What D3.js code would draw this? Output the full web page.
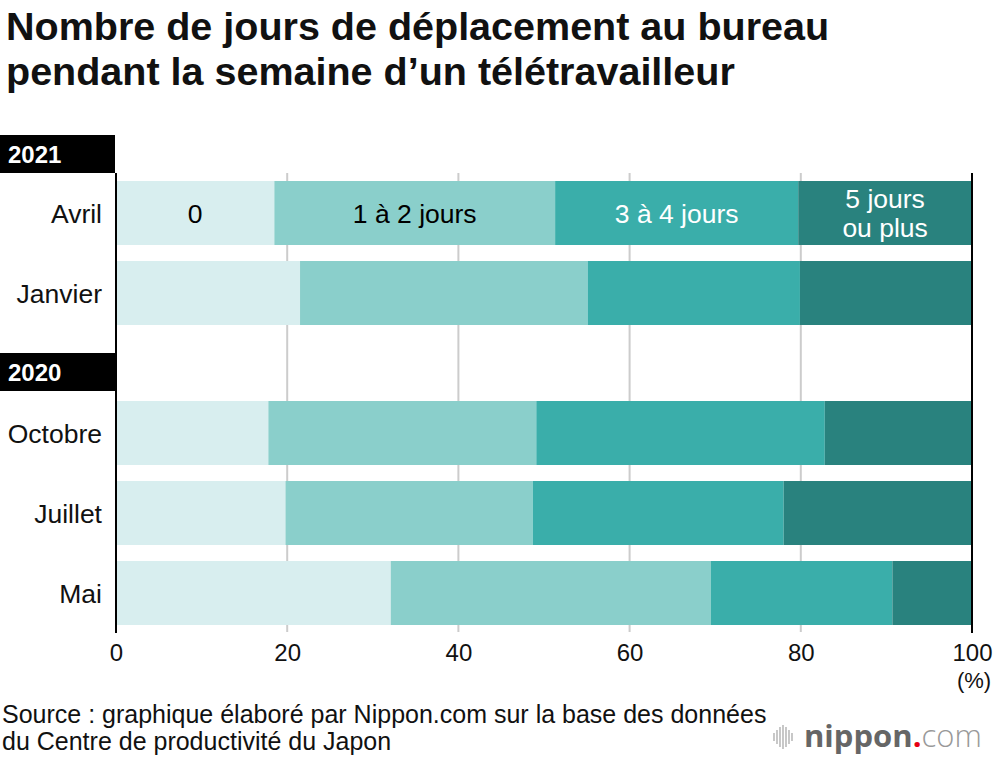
<!DOCTYPE html>
<html>
<head>
<meta charset="utf-8">
<script src="https://cdn.jsdelivr.net/npm/d3@7"></script>
<style>
  body { margin: 0; background: #fff; }
  svg { font-family: "Liberation Sans", Arial, sans-serif; }
</style>
</head>
<body>
<div id="chart"></div>
<script>
// categories (top to bottom), grouped by year
var years = ["2021", "2020"];
var months = ["Avril", "Janvier", "Octobre", "Juillet", "Mai"];
var monthYear = ["2021", "2021", "2020", "2020", "2020"];
var series = ["0", "1 à 2 jours", "3 à 4 jours", "5 jours ou plus"];
// share of teleworkers (%) by number of office days in the week
var zeroDays = [18.5, 21.5, 17.8, 19.8, 32.1];
var oneTwoDays = [32.8, 33.6, 31.3, 28.9, 37.4];
var threeFourDays = [28.4, 24.8, 33.7, 29.3, 21.2];
var fivePlusDays = [20.3, 20.1, 17.2, 22.0, 9.3];
var xTicks = [0, 20, 40, 60, 80, 100];

var colors = ["#d8eeef", "#8acfcb", "#3aaeaa", "#29827e"];
var labelColors = ["#000", "#000", "#fff", "#fff"];

var W = 1000, H = 760;
var svg = d3.select("#chart").append("svg")
    .attr("width", W).attr("height", H);

// title
var title = svg.append("text")
    .style("font-size", "39.5px").style("font-weight", "bold").attr("fill", "#111");
title.append("tspan").attr("x", 6).attr("y", 40).text("Nombre de jours de déplacement au bureau");
title.append("tspan").attr("x", 6).attr("y", 85).text("pendant la semaine d’un télétravailleur");

// layout: rows with year headers interleaved
var rowTop = {Avril: 181, Janvier: 261, Octobre: 401, Juillet: 481, Mai: 561};
var barH = 64;
var x = d3.scaleLinear().domain([0, 100]).range([116, 972]);

var data = months.map(function(m, i) {
    return {month: m, year: monthYear[i], values: [zeroDays[i], oneTwoDays[i], threeFourDays[i], fivePlusDays[i]]};
});
var stacked = data.map(function(d) {
    var acc = 0;
    return d.values.map(function(v, k) {
        var seg = {month: d.month, k: k, x0: acc, x1: acc + v};
        acc += v;
        return seg;
    });
});

// gridlines
svg.append("g").selectAll("line")
    .data(xTicks.slice(1, -1)).enter().append("line")
    .attr("x1", function(d) { return x(d); }).attr("x2", function(d) { return x(d); })
    .attr("y1", 173).attr("y2", 632)
    .attr("stroke", "#cccccc").attr("stroke-width", 2);

// bars
var rows = svg.append("g").selectAll("g")
    .data(stacked).enter().append("g");
rows.selectAll("rect")
    .data(function(d) { return d; }).enter().append("rect")
    .attr("x", function(d) { return x(d.x0); })
    .attr("width", function(d) { return x(d.x1) - x(d.x0); })
    .attr("y", function(d) { return rowTop[d.month]; })
    .attr("height", barH)
    .attr("fill", function(d) { return colors[d.k]; });

// segment labels on the first bar
var segLabels = svg.append("g").selectAll("text")
    .data(stacked[0]).enter().append("text")
    .attr("x", function(d) { return (x(d.x0) + x(d.x1)) / 2; })
    .attr("text-anchor", "middle")
    .attr("fill", function(d) { return labelColors[d.k]; })
    .style("font-size", "26.5px");
segLabels.each(function(d) {
    var t = d3.select(this);
    var cy = rowTop[d.month] + barH / 2;
    if (d.k === 3) {
        t.append("tspan").attr("x", t.attr("x")).attr("y", cy - 5).text("5 jours");
        t.append("tspan").attr("x", t.attr("x")).attr("y", cy + 24).text("ou plus");
    } else {
        t.attr("y", cy + 10).text(series[d.k]);
    }
});

// year headers
var yearTop = {"2021": 135, "2020": 353};
years.forEach(function(y) {
    svg.append("rect").attr("x", 0).attr("y", yearTop[y])
        .attr("width", 115).attr("height", 38).attr("fill", "#000");
    svg.append("text").attr("x", 8).attr("y", yearTop[y] + 28)
        .attr("fill", "#fff").style("font-size", "24px").style("font-weight", "bold")
        .text(y);
});

// row labels
svg.append("g").selectAll("text")
    .data(months).enter().append("text")
    .attr("x", 102).attr("y", function(m) { return rowTop[m] + barH / 2 + 10; })
    .attr("text-anchor", "end").style("font-size", "26.5px").attr("fill", "#111")
    .text(function(m) { return m; });

// axes lines
svg.append("line").attr("x1", 116).attr("x2", 116).attr("y1", 173).attr("y2", 633)
    .attr("stroke", "#000").attr("stroke-width", 2);
svg.append("line").attr("x1", 972).attr("x2", 972).attr("y1", 173).attr("y2", 633)
    .attr("stroke", "#000").attr("stroke-width", 2);

// x axis
var xAxis = d3.axisBottom(x).tickValues(xTicks).tickSize(0).tickPadding(11);
var gx = svg.append("g").attr("transform", "translate(0,633)").call(xAxis);
gx.select(".domain").remove();
gx.selectAll("text").style("font-size", "24px").attr("fill", "#111")
    .style("font-family", "'Liberation Sans', Arial, sans-serif");
svg.append("text").attr("x", 974).attr("y", 688).attr("text-anchor", "middle")
    .style("font-size", "22px").attr("fill", "#111").text("(%)");

// source
var src = svg.append("text").style("font-size", "25px").attr("fill", "#111");
src.append("tspan").attr("x", 2).attr("y", 723).text("Source : graphique élaboré par Nippon.com sur la base des données");
src.append("tspan").attr("x", 2).attr("y", 750).text("du Centre de productivité du Japon");

// logo
var logo = svg.append("g").attr("transform", "translate(774,747)");
[0, 3, 6, 9, 12, 15, 18].forEach(function(dx, i) {
    var h = [8, 14, 20, 24, 20, 14, 8][i];
    logo.append("line").attr("x1", dx).attr("x2", dx).attr("y1", -10 - h / 2).attr("y2", -10 + h / 2)
        .attr("stroke", "#aaa").attr("stroke-width", 1.3);
});
var lt = logo.append("text").attr("x", 30).attr("y", 0).style("font-size", "31px")
    .style("font-family", "'Open Sans', 'Liberation Sans', sans-serif");
lt.append("tspan").attr("fill", "#666").style("font-weight", "bold").text("nippon");
lt.append("tspan").attr("fill", "#e60012").style("font-weight", "bold").text(".");
lt.append("tspan").attr("fill", "#999").style("font-weight", "300").text("com");
</script>
</body>
</html>
